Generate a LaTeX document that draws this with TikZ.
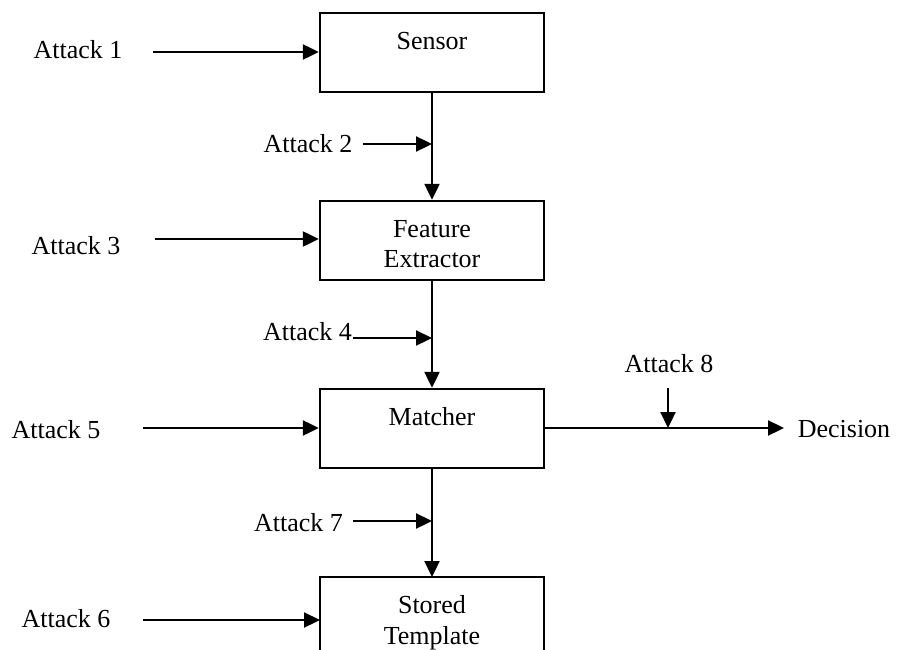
\documentclass[tikz,border=0pt]{standalone}
\usepackage{fontspec}
\setmainfont{Liberation Serif}
\usetikzlibrary{arrows.meta}
\begin{document}
\begin{tikzpicture}[x=1pt,y=-1pt,
  every node/.style={font=\fontsize{26}{31}\selectfont},
  blockbox/.style={draw,line width=2.4pt,minimum width=224pt,minimum height=79pt,inner sep=0pt},
  label/.style={anchor=base,inner sep=0pt},
  arr/.style={line width=2.3pt,-{Triangle[length=16pt,width=15pt]}}]
\useasboundingbox (0,0) rectangle (907,650);

% processing blocks
\node[blockbox] (sensor)  at (432,52.5) {};
\node[blockbox] (feature) at (432,240.5) {};
\node[blockbox] (matcher) at (432,428.5) {};
% open-bottomed block, drawn as three sides
\node[blockbox,draw=none,outer sep=0pt,minimum width=224pt,minimum height=76pt] (stored) at (432,615) {};
\draw[line width=2.4pt,line join=miter] (stored.south west) |- (stored.north east) -- (stored.south east);

% block captions
\node[label] (tsensor) at (432,50) {Sensor};
\node[label] (tfeat1) at (432,237) {Feature};
\node[label] (tfeat2) at (432,267) {Extractor};
\node[label] (tmatch) at (432,425) {Matcher};
\node[label] (tstor1) at (432,613) {Stored};
\node[label] (tstor2) at (432,644) {Template};

% attack labels
\node[label] (a1) at (78,59) {Attack 1};
\node[label] (a2) at (308,152) {Attack 2};
\node[label] (a3) at (76,254) {Attack 3};
\node[label] (a4) at (307.5,340) {Attack 4};
\node[label] (a5) at (56,438) {Attack 5};
\node[label] (a6) at (66,627) {Attack 6};
\node[label] (a7) at (298.5,531) {Attack 7};
\node[label] (a8) at (669,372) {Attack 8};
\node[label] (dec) at (844,437) {Decision};

% arrow start points
\coordinate (s1) at (153,52);
\coordinate (s2) at (363,144);
\coordinate (s3) at (155,239);
\coordinate (s4) at (353,338);
\coordinate (s5) at (143,428);
\coordinate (s6) at (143,620);
\coordinate (s7) at (353,521);
\coordinate (s8) at (668,388);
\coordinate (dtip) at (784,428);

% main data flow
\draw[arr] (sensor.south) -- (feature.north);
\draw[arr] (feature.south) -- (matcher.north);
\draw[arr] (matcher.south) -- (stored.north);
\draw[arr] (matcher.east |- dtip) -- (dtip);

% attack points
\draw[arr] (s1) -- (s1 -| sensor.west);
\draw[arr] (s2) -- (s2 -| sensor.south);
\draw[arr] (s3) -- (s3 -| feature.west);
\draw[arr] (s4) -- (s4 -| feature.south);
\draw[arr] (s5) -- (s5 -| matcher.west);
\draw[arr] (s6) -- (s6 -| stored.west);
\draw[arr] (s7) -- (s7 -| matcher.south);
\draw[arr] (s8) -- (s8 |- dtip);
\end{tikzpicture}
\end{document}
